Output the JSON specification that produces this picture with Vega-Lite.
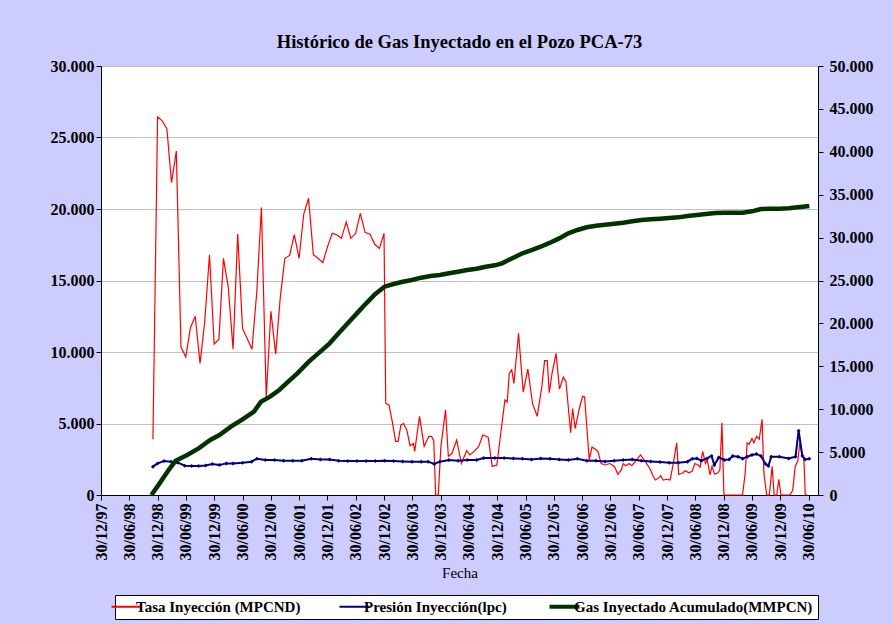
{
  "$schema": "https://vega.github.io/schema/vega-lite/v6.json",
  "width": 717,
  "height": 429,
  "autosize": {"type": "none"},
  "padding": {"left": 101, "top": 66, "right": 75, "bottom": 129},
  "background": "#CCCCFF",
  "title": {"text": "Histórico de Gas Inyectado en el Pozo PCA-73", "font": "'Liberation Serif', 'Times New Roman', serif", "fontSize": 18.5, "fontWeight": "bold", "color": "black", "anchor": "middle", "offset": 7},
  "config": {
    "view": {"fill": "white", "stroke": null},
    "axis": {"domainColor": "black", "tickColor": "black", "tickSize": 5, "labelFont": "'Liberation Serif', 'Times New Roman', serif", "labelFontWeight": "bold", "labelFontSize": 16, "labelColor": "black", "titleFont": "'Liberation Serif', 'Times New Roman', serif", "titleColor": "black"}
  },
  "datasets": {
    "tasa": [
      {"fecha": "1998-11-30", "valor": 3900},
      {"fecha": "1998-12-30", "valor": 26450},
      {"fecha": "1999-01-30", "valor": 26150},
      {"fecha": "1999-02-28", "valor": 25600},
      {"fecha": "1999-03-30", "valor": 21850},
      {"fecha": "1999-04-30", "valor": 24050},
      {"fecha": "1999-05-30", "valor": 10350},
      {"fecha": "1999-06-30", "valor": 9650},
      {"fecha": "1999-07-30", "valor": 11700},
      {"fecha": "1999-08-30", "valor": 12500},
      {"fecha": "1999-09-30", "valor": 9200},
      {"fecha": "1999-10-30", "valor": 12100},
      {"fecha": "1999-11-30", "valor": 16800},
      {"fecha": "1999-12-30", "valor": 10550},
      {"fecha": "2000-01-30", "valor": 10900},
      {"fecha": "2000-02-28", "valor": 16550},
      {"fecha": "2000-03-30", "valor": 14550},
      {"fecha": "2000-04-30", "valor": 10200},
      {"fecha": "2000-05-30", "valor": 18250},
      {"fecha": "2000-06-30", "valor": 11650},
      {"fecha": "2000-07-30", "valor": 10950},
      {"fecha": "2000-08-30", "valor": 10200},
      {"fecha": "2000-09-30", "valor": 14200},
      {"fecha": "2000-10-30", "valor": 20100},
      {"fecha": "2000-11-30", "valor": 6800},
      {"fecha": "2000-12-30", "valor": 12850},
      {"fecha": "2001-01-30", "valor": 9850},
      {"fecha": "2001-02-28", "valor": 13750},
      {"fecha": "2001-03-30", "valor": 16550},
      {"fecha": "2001-04-30", "valor": 16750},
      {"fecha": "2001-05-30", "valor": 18200},
      {"fecha": "2001-06-30", "valor": 16550},
      {"fecha": "2001-07-30", "valor": 19650},
      {"fecha": "2001-08-30", "valor": 20750},
      {"fecha": "2001-09-30", "valor": 16800},
      {"fecha": "2001-10-30", "valor": 16550},
      {"fecha": "2001-11-30", "valor": 16250},
      {"fecha": "2001-12-30", "valor": 17350},
      {"fecha": "2002-01-30", "valor": 18300},
      {"fecha": "2002-02-28", "valor": 18200},
      {"fecha": "2002-03-30", "valor": 17950},
      {"fecha": "2002-04-30", "valor": 19100},
      {"fecha": "2002-05-30", "valor": 17950},
      {"fecha": "2002-06-30", "valor": 18300},
      {"fecha": "2002-07-30", "valor": 19700},
      {"fecha": "2002-08-30", "valor": 18350},
      {"fecha": "2002-09-30", "valor": 18250},
      {"fecha": "2002-10-30", "valor": 17550},
      {"fecha": "2002-11-30", "valor": 17250},
      {"fecha": "2002-12-30", "valor": 18300},
      {"fecha": "2003-01-10", "valor": 6400},
      {"fecha": "2003-01-31", "valor": 6300},
      {"fecha": "2003-02-21", "valor": 5150},
      {"fecha": "2003-03-15", "valor": 3750},
      {"fecha": "2003-03-31", "valor": 3750},
      {"fecha": "2003-04-18", "valor": 4900},
      {"fecha": "2003-05-05", "valor": 5000},
      {"fecha": "2003-05-26", "valor": 4550},
      {"fecha": "2003-06-16", "valor": 3450},
      {"fecha": "2003-07-08", "valor": 3600},
      {"fecha": "2003-07-16", "valor": 3050},
      {"fecha": "2003-08-16", "valor": 5500},
      {"fecha": "2003-09-15", "valor": 3400},
      {"fecha": "2003-10-15", "valor": 4100},
      {"fecha": "2003-11-02", "valor": 4100},
      {"fecha": "2003-11-16", "valor": 3800},
      {"fecha": "2003-11-28", "valor": 0},
      {"fecha": "2003-12-15", "valor": 0},
      {"fecha": "2004-01-01", "valor": 3400},
      {"fecha": "2004-01-31", "valor": 5950},
      {"fecha": "2004-02-18", "valor": 2700},
      {"fecha": "2004-03-12", "valor": 2900},
      {"fecha": "2004-04-12", "valor": 3850},
      {"fecha": "2004-05-12", "valor": 2200},
      {"fecha": "2004-06-15", "valor": 3100},
      {"fecha": "2004-07-06", "valor": 2800},
      {"fecha": "2004-08-02", "valor": 3050},
      {"fecha": "2004-09-01", "valor": 3400},
      {"fecha": "2004-09-27", "valor": 4200},
      {"fecha": "2004-11-01", "valor": 4050},
      {"fecha": "2004-11-27", "valor": 2000},
      {"fecha": "2004-12-27", "valor": 2100},
      {"fecha": "2005-01-21", "valor": 4300},
      {"fecha": "2005-02-17", "valor": 6650},
      {"fecha": "2005-03-04", "valor": 6500},
      {"fecha": "2005-03-17", "valor": 8500},
      {"fecha": "2005-04-02", "valor": 8750},
      {"fecha": "2005-04-16", "valor": 7800},
      {"fecha": "2005-05-16", "valor": 11300},
      {"fecha": "2005-06-15", "valor": 7200},
      {"fecha": "2005-07-15", "valor": 8800},
      {"fecha": "2005-08-14", "valor": 6400},
      {"fecha": "2005-09-13", "valor": 5500},
      {"fecha": "2005-10-13", "valor": 7550},
      {"fecha": "2005-10-31", "valor": 9400},
      {"fecha": "2005-11-17", "valor": 9400},
      {"fecha": "2005-11-30", "valor": 7150},
      {"fecha": "2005-12-18", "valor": 8500},
      {"fecha": "2006-01-13", "valor": 9900},
      {"fecha": "2006-02-04", "valor": 7400},
      {"fecha": "2006-03-01", "valor": 8250},
      {"fecha": "2006-03-18", "valor": 7900},
      {"fecha": "2006-04-17", "valor": 4350},
      {"fecha": "2006-04-30", "valor": 6050},
      {"fecha": "2006-05-16", "valor": 4650},
      {"fecha": "2006-06-12", "valor": 6050},
      {"fecha": "2006-07-03", "valor": 6900},
      {"fecha": "2006-07-16", "valor": 6850},
      {"fecha": "2006-08-15", "valor": 2450},
      {"fecha": "2006-09-02", "valor": 3350},
      {"fecha": "2006-09-23", "valor": 3200},
      {"fecha": "2006-10-10", "valor": 3050},
      {"fecha": "2006-10-31", "valor": 2200},
      {"fecha": "2006-11-26", "valor": 2100},
      {"fecha": "2006-12-26", "valor": 2200},
      {"fecha": "2007-01-25", "valor": 2000},
      {"fecha": "2007-02-16", "valor": 1450},
      {"fecha": "2007-03-10", "valor": 1750},
      {"fecha": "2007-03-22", "valor": 2200},
      {"fecha": "2007-04-08", "valor": 2050},
      {"fecha": "2007-04-30", "valor": 2200},
      {"fecha": "2007-05-17", "valor": 2050},
      {"fecha": "2007-06-16", "valor": 2450},
      {"fecha": "2007-07-12", "valor": 2800},
      {"fecha": "2007-08-11", "valor": 2350},
      {"fecha": "2007-09-10", "valor": 1850},
      {"fecha": "2007-09-28", "valor": 1400},
      {"fecha": "2007-10-15", "valor": 1050},
      {"fecha": "2007-11-01", "valor": 1150},
      {"fecha": "2007-11-19", "valor": 1350},
      {"fecha": "2007-12-06", "valor": 1050},
      {"fecha": "2007-12-28", "valor": 1100},
      {"fecha": "2008-01-19", "valor": 1050},
      {"fecha": "2008-02-09", "valor": 2250},
      {"fecha": "2008-03-01", "valor": 3650},
      {"fecha": "2008-03-14", "valor": 1450},
      {"fecha": "2008-04-04", "valor": 1500},
      {"fecha": "2008-04-26", "valor": 1700},
      {"fecha": "2008-05-18", "valor": 1550},
      {"fecha": "2008-06-09", "valor": 1650},
      {"fecha": "2008-06-26", "valor": 2200},
      {"fecha": "2008-07-17", "valor": 2100},
      {"fecha": "2008-07-30", "valor": 1950},
      {"fecha": "2008-08-16", "valor": 3050},
      {"fecha": "2008-09-03", "valor": 2200},
      {"fecha": "2008-09-15", "valor": 2450},
      {"fecha": "2008-10-02", "valor": 1400},
      {"fecha": "2008-10-15", "valor": 2000},
      {"fecha": "2008-11-01", "valor": 1450},
      {"fecha": "2008-11-22", "valor": 1550},
      {"fecha": "2008-12-05", "valor": 1750},
      {"fecha": "2008-12-18", "valor": 5050},
      {"fecha": "2008-12-31", "valor": 0},
      {"fecha": "2009-04-30", "valor": 0},
      {"fecha": "2009-05-17", "valor": 1500},
      {"fecha": "2009-05-30", "valor": 3650},
      {"fecha": "2009-06-12", "valor": 3550},
      {"fecha": "2009-06-30", "valor": 3950},
      {"fecha": "2009-07-12", "valor": 3650},
      {"fecha": "2009-07-30", "valor": 4100},
      {"fecha": "2009-08-16", "valor": 3900},
      {"fecha": "2009-09-03", "valor": 5300},
      {"fecha": "2009-09-15", "valor": 1500},
      {"fecha": "2009-10-03", "valor": 0},
      {"fecha": "2009-10-20", "valor": 0},
      {"fecha": "2009-11-07", "valor": 2000},
      {"fecha": "2009-11-20", "valor": 0},
      {"fecha": "2009-12-07", "valor": 0},
      {"fecha": "2009-12-20", "valor": 1100},
      {"fecha": "2010-01-03", "valor": 0},
      {"fecha": "2010-03-03", "valor": 0},
      {"fecha": "2010-03-20", "valor": 350},
      {"fecha": "2010-04-05", "valor": 2000},
      {"fecha": "2010-04-22", "valor": 2400},
      {"fecha": "2010-05-05", "valor": 3650},
      {"fecha": "2010-05-18", "valor": 2900},
      {"fecha": "2010-05-31", "valor": 2500},
      {"fecha": "2010-06-09", "valor": 0},
      {"fecha": "2010-06-22", "valor": 0}
    ],
    "presion": [
      {"fecha": "1998-11-30", "valor": 1980},
      {"fecha": "1998-12-30", "valor": 2210},
      {"fecha": "1999-02-10", "valor": 2380},
      {"fecha": "1999-03-28", "valor": 2330},
      {"fecha": "1999-05-10", "valor": 2260},
      {"fecha": "1999-06-24", "valor": 2050},
      {"fecha": "1999-08-07", "valor": 2030},
      {"fecha": "1999-09-21", "valor": 2030},
      {"fecha": "1999-11-05", "valor": 2070},
      {"fecha": "1999-12-18", "valor": 2170},
      {"fecha": "2000-02-02", "valor": 2100},
      {"fecha": "2000-03-17", "valor": 2210},
      {"fecha": "2000-04-30", "valor": 2210},
      {"fecha": "2000-06-30", "valor": 2260},
      {"fecha": "2000-08-27", "valor": 2330},
      {"fecha": "2000-10-01", "valor": 2540},
      {"fecha": "2000-11-25", "valor": 2450},
      {"fecha": "2001-01-23", "valor": 2450},
      {"fecha": "2001-03-22", "valor": 2400},
      {"fecha": "2001-05-20", "valor": 2400},
      {"fecha": "2001-07-18", "valor": 2400},
      {"fecha": "2001-09-16", "valor": 2540},
      {"fecha": "2001-11-14", "valor": 2490},
      {"fecha": "2002-01-13", "valor": 2490},
      {"fecha": "2002-03-12", "valor": 2400},
      {"fecha": "2002-05-10", "valor": 2380},
      {"fecha": "2002-07-08", "valor": 2380},
      {"fecha": "2002-09-06", "valor": 2380},
      {"fecha": "2002-11-04", "valor": 2380},
      {"fecha": "2003-01-02", "valor": 2400},
      {"fecha": "2003-03-02", "valor": 2380},
      {"fecha": "2003-04-30", "valor": 2350},
      {"fecha": "2003-06-29", "valor": 2330},
      {"fecha": "2003-08-27", "valor": 2330},
      {"fecha": "2003-10-11", "valor": 2330},
      {"fecha": "2003-11-19", "valor": 2170},
      {"fecha": "2003-12-25", "valor": 2330},
      {"fecha": "2004-02-22", "valor": 2450},
      {"fecha": "2004-04-21", "valor": 2400},
      {"fecha": "2004-06-19", "valor": 2450},
      {"fecha": "2004-08-18", "valor": 2450},
      {"fecha": "2004-10-04", "valor": 2590},
      {"fecha": "2004-12-14", "valor": 2590},
      {"fecha": "2005-02-12", "valor": 2590},
      {"fecha": "2005-04-12", "valor": 2560},
      {"fecha": "2005-06-10", "valor": 2540},
      {"fecha": "2005-08-08", "valor": 2490},
      {"fecha": "2005-10-06", "valor": 2560},
      {"fecha": "2005-12-05", "valor": 2540},
      {"fecha": "2006-02-02", "valor": 2490},
      {"fecha": "2006-04-02", "valor": 2450},
      {"fecha": "2006-05-31", "valor": 2540},
      {"fecha": "2006-07-30", "valor": 2400},
      {"fecha": "2006-09-27", "valor": 2400},
      {"fecha": "2006-11-25", "valor": 2350},
      {"fecha": "2007-01-23", "valor": 2400},
      {"fecha": "2007-03-22", "valor": 2450},
      {"fecha": "2007-05-20", "valor": 2490},
      {"fecha": "2007-07-18", "valor": 2400},
      {"fecha": "2007-09-16", "valor": 2350},
      {"fecha": "2007-11-15", "valor": 2310},
      {"fecha": "2008-01-13", "valor": 2260},
      {"fecha": "2008-03-12", "valor": 2260},
      {"fecha": "2008-05-10", "valor": 2330},
      {"fecha": "2008-06-10", "valor": 2540},
      {"fecha": "2008-07-09", "valor": 2560},
      {"fecha": "2008-08-08", "valor": 2400},
      {"fecha": "2008-09-13", "valor": 2560},
      {"fecha": "2008-10-12", "valor": 2730},
      {"fecha": "2008-10-30", "valor": 2100},
      {"fecha": "2008-11-28", "valor": 2630},
      {"fecha": "2009-01-03", "valor": 2450},
      {"fecha": "2009-02-02", "valor": 2490},
      {"fecha": "2009-02-26", "valor": 2730},
      {"fecha": "2009-04-01", "valor": 2680},
      {"fecha": "2009-05-01", "valor": 2540},
      {"fecha": "2009-05-31", "valor": 2680},
      {"fecha": "2009-06-30", "valor": 2800},
      {"fecha": "2009-07-29", "valor": 2870},
      {"fecha": "2009-08-27", "valor": 2730},
      {"fecha": "2009-09-26", "valor": 2170},
      {"fecha": "2009-10-14", "valor": 2030},
      {"fecha": "2009-11-01", "valor": 2680},
      {"fecha": "2009-12-24", "valor": 2680},
      {"fecha": "2010-02-22", "valor": 2560},
      {"fecha": "2010-04-07", "valor": 2680},
      {"fecha": "2010-04-27", "valor": 4500},
      {"fecha": "2010-05-21", "valor": 2730},
      {"fecha": "2010-06-08", "valor": 2490},
      {"fecha": "2010-07-05", "valor": 2540}
    ],
    "acumulado": [
      {"fecha": "1998-11-20", "valor": 0},
      {"fecha": "1999-01-12", "valor": 1360},
      {"fecha": "1999-03-11", "valor": 2910},
      {"fecha": "1999-04-26", "valor": 4000},
      {"fecha": "1999-07-09", "valor": 4660},
      {"fecha": "1999-09-21", "valor": 5440},
      {"fecha": "1999-12-05", "valor": 6410},
      {"fecha": "2000-02-02", "valor": 6990},
      {"fecha": "2000-04-16", "valor": 7960},
      {"fecha": "2000-06-30", "valor": 8820},
      {"fecha": "2000-09-12", "valor": 9710},
      {"fecha": "2000-10-27", "valor": 10880},
      {"fecha": "2000-12-25", "valor": 11460},
      {"fecha": "2001-02-22", "valor": 12240},
      {"fecha": "2001-04-21", "valor": 13210},
      {"fecha": "2001-06-19", "valor": 14180},
      {"fecha": "2001-09-01", "valor": 15540},
      {"fecha": "2001-11-14", "valor": 16710},
      {"fecha": "2002-01-13", "valor": 17680},
      {"fecha": "2002-03-12", "valor": 18840},
      {"fecha": "2002-05-10", "valor": 20010},
      {"fecha": "2002-07-08", "valor": 21170},
      {"fecha": "2002-09-06", "valor": 22340},
      {"fecha": "2002-11-04", "valor": 23430},
      {"fecha": "2003-01-02", "valor": 24280},
      {"fecha": "2003-03-02", "valor": 24590},
      {"fecha": "2003-04-30", "valor": 24860},
      {"fecha": "2003-06-29", "valor": 25060},
      {"fecha": "2003-08-27", "valor": 25330},
      {"fecha": "2003-10-26", "valor": 25520},
      {"fecha": "2003-12-25", "valor": 25640},
      {"fecha": "2004-02-22", "valor": 25840},
      {"fecha": "2004-04-21", "valor": 26030},
      {"fecha": "2004-06-19", "valor": 26220},
      {"fecha": "2004-08-18", "valor": 26380},
      {"fecha": "2004-10-16", "valor": 26610},
      {"fecha": "2004-12-14", "valor": 26770},
      {"fecha": "2005-01-29", "valor": 27000},
      {"fecha": "2005-03-13", "valor": 27390},
      {"fecha": "2005-04-26", "valor": 27780},
      {"fecha": "2005-06-10", "valor": 28170},
      {"fecha": "2005-08-08", "valor": 28550},
      {"fecha": "2005-10-06", "valor": 28940},
      {"fecha": "2005-12-05", "valor": 29410},
      {"fecha": "2006-02-02", "valor": 29910},
      {"fecha": "2006-04-02", "valor": 30500},
      {"fecha": "2006-05-31", "valor": 30890},
      {"fecha": "2006-07-30", "valor": 31200},
      {"fecha": "2006-09-27", "valor": 31390},
      {"fecha": "2006-11-25", "valor": 31510},
      {"fecha": "2007-01-23", "valor": 31620},
      {"fecha": "2007-03-22", "valor": 31740},
      {"fecha": "2007-05-20", "valor": 31900},
      {"fecha": "2007-07-18", "valor": 32050},
      {"fecha": "2007-09-16", "valor": 32130},
      {"fecha": "2007-11-15", "valor": 32210},
      {"fecha": "2008-01-13", "valor": 32280},
      {"fecha": "2008-03-12", "valor": 32360},
      {"fecha": "2008-05-10", "valor": 32520},
      {"fecha": "2008-07-09", "valor": 32630},
      {"fecha": "2008-09-06", "valor": 32750},
      {"fecha": "2008-11-05", "valor": 32870},
      {"fecha": "2009-01-03", "valor": 32910},
      {"fecha": "2009-03-03", "valor": 32910},
      {"fecha": "2009-05-01", "valor": 32910},
      {"fecha": "2009-06-30", "valor": 33060},
      {"fecha": "2009-08-27", "valor": 33330},
      {"fecha": "2009-10-26", "valor": 33370},
      {"fecha": "2009-12-24", "valor": 33370},
      {"fecha": "2010-02-22", "valor": 33410},
      {"fecha": "2010-04-22", "valor": 33530},
      {"fecha": "2010-07-05", "valor": 33680}
    ]
  },
  "encoding": {
    "x": {
      "field": "fecha",
      "type": "temporal",
      "scale": {"type": "utc", "domain": [{"year": 1997, "month": 12, "date": 30, "utc": true}, {"year": 2010, "month": 8, "date": 30, "utc": true}]},
      "axis": {
        "title": "Fecha",
        "titleFontSize": 15,
        "titleFontWeight": "normal",
        "titlePadding": 6,
        "format": "%d/%m/%y",
        "labelAngle": -90,
        "labelPadding": 3,
        "grid": false,
        "labelOverlap": false,
        "values": [
          {"year": 1997, "month": 12, "date": 30, "utc": true},
          {"year": 1998, "month": 6, "date": 30, "utc": true},
          {"year": 1998, "month": 12, "date": 30, "utc": true},
          {"year": 1999, "month": 6, "date": 30, "utc": true},
          {"year": 1999, "month": 12, "date": 30, "utc": true},
          {"year": 2000, "month": 6, "date": 30, "utc": true},
          {"year": 2000, "month": 12, "date": 30, "utc": true},
          {"year": 2001, "month": 6, "date": 30, "utc": true},
          {"year": 2001, "month": 12, "date": 30, "utc": true},
          {"year": 2002, "month": 6, "date": 30, "utc": true},
          {"year": 2002, "month": 12, "date": 30, "utc": true},
          {"year": 2003, "month": 6, "date": 30, "utc": true},
          {"year": 2003, "month": 12, "date": 30, "utc": true},
          {"year": 2004, "month": 6, "date": 30, "utc": true},
          {"year": 2004, "month": 12, "date": 30, "utc": true},
          {"year": 2005, "month": 6, "date": 30, "utc": true},
          {"year": 2005, "month": 12, "date": 30, "utc": true},
          {"year": 2006, "month": 6, "date": 30, "utc": true},
          {"year": 2006, "month": 12, "date": 30, "utc": true},
          {"year": 2007, "month": 6, "date": 30, "utc": true},
          {"year": 2007, "month": 12, "date": 30, "utc": true},
          {"year": 2008, "month": 6, "date": 30, "utc": true},
          {"year": 2008, "month": 12, "date": 30, "utc": true},
          {"year": 2009, "month": 6, "date": 30, "utc": true},
          {"year": 2009, "month": 12, "date": 30, "utc": true},
          {"year": 2010, "month": 6, "date": 30, "utc": true}
        ]
      }
    }
  },
  "layer": [
    {
      "encoding": {
        "y": {
          "field": "valor",
          "type": "quantitative",
          "scale": {"domain": [0, 30000], "nice": false, "zero": true},
          "axis": {"orient": "left", "title": null, "values": [0, 5000, 10000, 15000, 20000, 25000, 30000], "grid": true, "gridColor": "#C0C0C0", "gridWidth": 1, "labelPadding": 2, "labelExpr": "replace(format(datum.value, ','), ',', '.')"}
        }
      },
      "layer": [
        {
          "data": {"name": "tasa"},
          "mark": {"type": "line", "strokeWidth": 1.2},
          "encoding": {
            "color": {
              "datum": "Tasa Inyección (MPCND)",
              "type": "nominal",
              "scale": {"domain": ["Tasa Inyección (MPCND)", "Presión Inyección(lpc)", "Gas Inyectado Acumulado(MMPCN)"], "range": ["#FF0000", "#000080", "#003300"]},
              "legend": {
                "orient": "none",
                "legendX": 14,
                "legendY": 529,
                "direction": "horizontal",
                "title": null,
                "symbolType": "stroke",
                "symbolSize": 900,
                "symbolStrokeWidth": 2,
                "labelFont": "'Liberation Serif', 'Times New Roman', serif",
                "labelFontWeight": "bold",
                "labelFontSize": 15,
                "labelColor": "black",
                "labelOffset": 2,
                "labelLimit": 400,
                "strokeColor": "black",
                "fillColor": "white",
                "padding": 4,
                "columnPadding": 34,
                "encode": {"symbols": {"update": {"strokeWidth": {"signal": "datum.value === 'Gas Inyectado Acumulado(MMPCN)' ? 4 : 2"}}}}
              }
            }
          }
        },
        {
          "data": {"name": "presion"},
          "mark": {"type": "line", "strokeWidth": 2, "point": {"filled": true, "size": 16, "shape": "diamond"}},
          "encoding": {
            "color": {"datum": "Presión Inyección(lpc)", "type": "nominal"}
          }
        }
      ]
    },
    {
      "data": {"name": "acumulado"},
      "mark": {"type": "line", "strokeWidth": 4.5},
      "encoding": {
        "y": {
          "field": "valor",
          "type": "quantitative",
          "scale": {"domain": [0, 50000], "nice": false, "zero": true},
          "axis": {"orient": "right", "title": null, "values": [0, 5000, 10000, 15000, 20000, 25000, 30000, 35000, 40000, 45000, 50000], "grid": false, "labelPadding": 6, "labelExpr": "replace(format(datum.value, ','), ',', '.')"}
        },
        "color": {"datum": "Gas Inyectado Acumulado(MMPCN)", "type": "nominal"}
      }
    }
  ],
  "resolve": {"scale": {"y": "independent"}}
}
